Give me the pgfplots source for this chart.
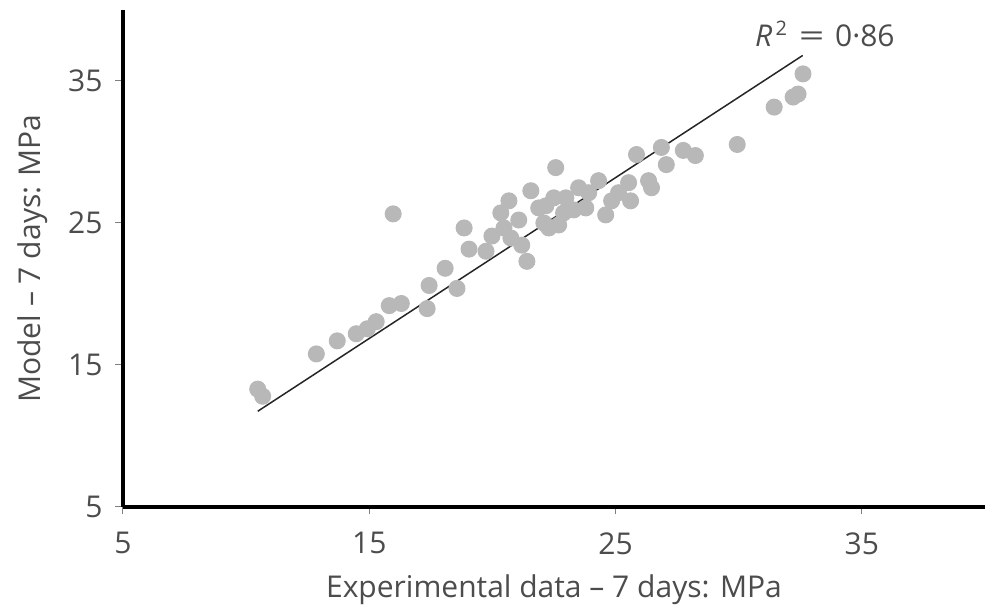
\documentclass[border=0pt]{standalone}
\usepackage{fontspec}
\setmainfont{Open Sans}
\usepackage{pgfplots}
\pgfplotsset{compat=1.18}
\definecolor{txt}{gray}{0.3}
\definecolor{pt}{gray}{0.72}
\begin{document}
\fontsize{12}{14}\selectfont
\begin{tikzpicture}
\begin{axis}[
  name=ax,
  width=344.8pt, height=198.8pt, scale only axis,
  xmin=5, xmax=40, ymin=5, ymax=40,
  axis x line=bottom, axis y line=left,
  axis line style={-, line width=1.3pt, black},
  xtick={5,15,25,35}, ytick={5,15,25,35},
  tick style={gray, line width=0.4pt},
  tick align=outside, major tick length=3pt,
  tick label style={text=txt},
  xticklabel style={yshift=-3pt},
  yticklabel style={xshift=-1pt},
  /pgf/number format/assume math mode=true,
  xlabel={Experimental data -- 7 days: MPa},
  ylabel={Model -- 7 days: MPa},
  label style={text=txt},
  xlabel style={yshift=0pt},
  ylabel style={yshift=0pt},
  clip=false,
]
\addplot[only marks, mark=*, mark size=3.2pt, pt, mark options={draw=pt, fill=pt}] coordinates {
(10.47,13.30) (10.67,12.80) (12.85,15.78) (13.70,16.70) (14.47,17.20)
(14.92,17.55) (15.28,18.05) (15.81,19.18) (16.30,19.33) (15.97,25.64)
(17.35,18.97) (17.43,20.60) (18.08,21.81) (18.56,20.39) (18.85,24.65)
(19.05,23.16) (19.74,23.01) (19.98,24.08) (20.34,25.71) (20.67,26.56)
(20.75,23.94) (21.07,25.21) (21.19,23.44) (21.40,22.30) (21.56,27.27)
(21.88,26.06) (22.17,26.21) (22.29,24.65) (22.57,28.90) (22.69,24.86)
(22.98,26.77) (23.30,25.92) (23.50,27.48) (23.79,26.06) (24.31,27.98)
(24.60,25.57) (24.84,26.56) (25.12,27.13) (25.53,27.84) (25.61,26.56)
(25.85,29.82) (26.34,27.98) (26.46,27.48) (26.86,30.32) (27.06,29.11)
(27.75,30.11) (28.24,29.75) (29.94,30.53) (31.44,33.16) (32.21,33.87)
(32.41,34.08) (32.61,35.50) (22.49,26.77) (22.89,25.71) (22.09,25.00)
(23.91,27.13) (20.47,24.65)
};
\addplot[black!85, line width=0.6pt] coordinates {(10.47,11.74) (32.6,36.8)};
\node[text=txt, anchor=center] at (axis cs:33.5,38.3) {\textit{R}\textsuperscript{\,2}\hspace{0.35em}\scalebox{1.5}[1]{=}\hspace{0.35em}0·86};
\end{axis}
\pgfresetboundingbox
\path (ax.south west) ++(-49.2pt,-42.4pt) rectangle ++(394.4pt,245.2pt);
\end{tikzpicture}
\end{document}
